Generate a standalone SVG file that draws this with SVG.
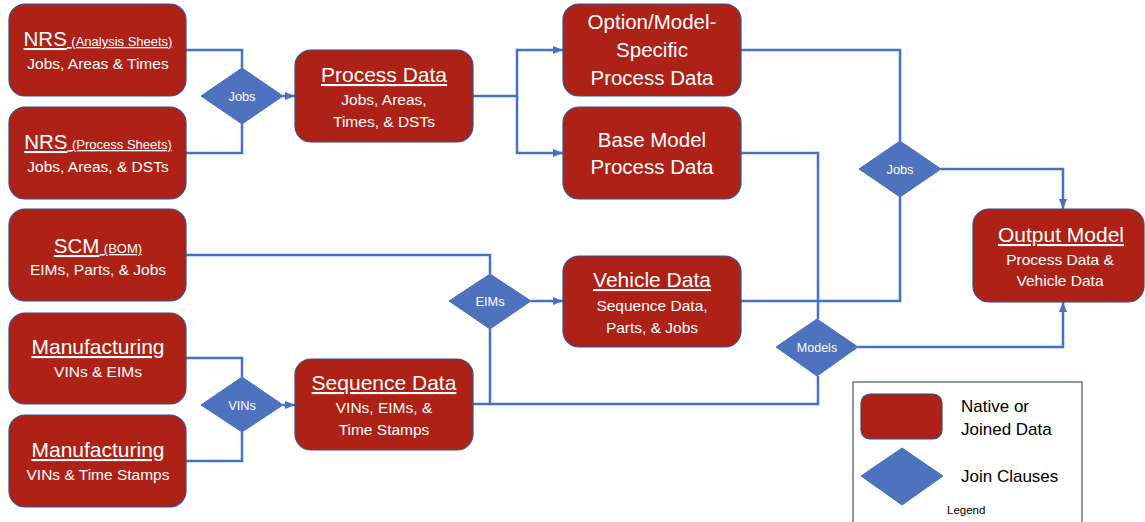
<svg xmlns="http://www.w3.org/2000/svg" width="1145" height="522" viewBox="0 0 1145 522">
<style>
.node{fill:#AE2117;stroke:#2F528F;stroke-width:1.2}
.dia{fill:#4E72BE;stroke:#4472C4;stroke-width:1}
.conn{fill:none;stroke:#4472C4;stroke-width:2.5}
text{font-family:"Liberation Sans",Arial,sans-serif;fill:#fff;text-anchor:middle}
.t{font-size:21px;text-decoration:underline}
.tn{font-size:20.5px}
.s{font-size:15.5px}
.p{font-size:13px}
.d{font-size:12.8px}
.lg{fill:#000;text-anchor:start;font-size:17px}
.lgs{fill:#000;text-anchor:start;font-size:11.5px}
</style>
<defs>
<marker id="ah" markerUnits="userSpaceOnUse" markerWidth="10" markerHeight="10" viewBox="0 0 10 10" refX="10" refY="5" orient="auto">
<path d="M0,1 L10,5 L0,9 Z" fill="#4472C4"/>
</marker>
</defs>
<g id="connectors">
<path class="conn" d="M186,50 H242 V68"/>
<path class="conn" d="M186,153 H242 V124"/>
<path class="conn" d="M283,96 H295" marker-end="url(#ah)"/>
<path class="conn" d="M473,96 H517 V50 H563" marker-end="url(#ah)"/>
<path class="conn" d="M517,96 V153 H563" marker-end="url(#ah)"/>
<path class="conn" d="M186,255 H490 V274"/>
<path class="conn" d="M531,301 H563" marker-end="url(#ah)"/>
<path class="conn" d="M473,404 H490 V329"/>
<path class="conn" d="M490,404 H818 V376"/>
<path class="conn" d="M186,358 H242 V377"/>
<path class="conn" d="M186,461 H242 V432"/>
<path class="conn" d="M283,405 H295" marker-end="url(#ah)"/>
<path class="conn" d="M741,50 H900 V141"/>
<path class="conn" d="M741,153 H818 V319"/>
<path class="conn" d="M741,301 H900 V197"/>
<path class="conn" d="M941,169 H1063 V209" marker-end="url(#ah)"/>
<path class="conn" d="M858,347 H1063 V302" marker-end="url(#ah)"/>
</g>
<g id="nrs-analysis">
<rect class="node" x="9" y="4" width="177" height="92" rx="16"/>
<text x="98" y="46" style="text-decoration:underline"><tspan class="tn">NRS</tspan> <tspan class="p">(Analysis Sheets)</tspan></text>
<text class="s" x="98" y="69">Jobs, Areas &amp; Times</text>
</g>
<g id="nrs-process">
<rect class="node" x="9" y="107" width="177" height="92" rx="16"/>
<text x="98" y="149" style="text-decoration:underline"><tspan class="tn">NRS</tspan> <tspan class="p">(Process Sheets)</tspan></text>
<text class="s" x="98" y="172">Jobs, Areas, &amp; DSTs</text>
</g>
<g id="scm">
<rect class="node" x="9" y="209" width="177" height="92" rx="16"/>
<text x="98" y="253" style="text-decoration:underline"><tspan class="tn">SCM</tspan> <tspan class="p">(BOM)</tspan></text>
<text class="s" x="98" y="275">EIMs, Parts, &amp; Jobs</text>
</g>
<g id="manufacturing-eims">
<rect class="node" x="9" y="313" width="177" height="91" rx="16"/>
<text class="t" x="98" y="354">Manufacturing</text>
<text class="s" x="98" y="377">VINs &amp; EIMs</text>
</g>
<g id="manufacturing-times">
<rect class="node" x="9" y="415" width="177" height="92" rx="16"/>
<text class="t" x="98" y="457">Manufacturing</text>
<text class="s" x="98" y="480">VINs &amp; Time Stamps</text>
</g>
<g id="join-jobs-1">
<polygon class="dia" points="201,96 242,68 283,96 242,124"/>
<text class="d" x="242" y="101">Jobs</text>
</g>
<g id="join-vins">
<polygon class="dia" points="201,405 242,377 283,405 242,432"/>
<text class="d" x="242" y="410">VINs</text>
</g>
<g id="process-data">
<rect class="node" x="295" y="50" width="178" height="92" rx="16"/>
<text class="t" x="384" y="82">Process Data</text>
<text class="s" x="384" y="105">Jobs, Areas,</text>
<text class="s" x="384" y="127">Times, &amp; DSTs</text>
</g>
<g id="sequence-data">
<rect class="node" x="295" y="359" width="178" height="91" rx="16"/>
<text class="t" x="384" y="390">Sequence Data</text>
<text class="s" x="384" y="413">VINs, EIMs, &amp;</text>
<text class="s" x="384" y="435">Time Stamps</text>
</g>
<g id="join-eims">
<polygon class="dia" points="449,301 490,274 531,301 490,329"/>
<text class="d" x="490" y="306">EIMs</text>
</g>
<g id="option-model">
<rect class="node" x="563" y="4" width="178" height="92" rx="16"/>
<text class="tn" x="652" y="29">Option/Model-</text>
<text class="tn" x="652" y="57">Specific</text>
<text class="tn" x="652" y="85">Process Data</text>
</g>
<g id="base-model">
<rect class="node" x="563" y="107" width="178" height="92" rx="16"/>
<text class="tn" x="652" y="147">Base Model</text>
<text class="tn" x="652" y="174">Process Data</text>
</g>
<g id="vehicle-data">
<rect class="node" x="563" y="256" width="178" height="91" rx="16"/>
<text class="t" x="652" y="287">Vehicle Data</text>
<text class="s" x="652" y="311">Sequence Data,</text>
<text class="s" x="652" y="333">Parts, &amp; Jobs</text>
</g>
<g id="join-jobs-2">
<polygon class="dia" points="859,169 900,141 941,169 900,197"/>
<text class="d" x="900" y="174">Jobs</text>
</g>
<g id="join-models">
<polygon class="dia" points="776,347 817,319 858,347 817,376"/>
<text class="d" x="817" y="352" style="font-size:12.5px">Models</text>
</g>
<g id="output-model">
<rect class="node" x="973" y="209" width="171" height="93" rx="16"/>
<text class="t" x="1061" y="242">Output Model</text>
<text class="s" x="1060" y="265">Process Data &amp;</text>
<text class="s" x="1060" y="286">Vehicle Data</text>
</g>
<g id="legend">
<rect x="853" y="382" width="229" height="150" fill="#fff" stroke="#44546A" stroke-width="1.2"/>
<rect class="node" x="861" y="394" width="81" height="45" rx="9"/>
<polygon class="dia" points="861,476 902,448 943,476 902,505"/>
<text class="lg" x="961" y="412">Native or</text>
<text class="lg" x="961" y="435">Joined Data</text>
<text class="lg" x="961" y="482">Join Clauses</text>
<text class="lgs" x="947" y="514">Legend</text>
</g>
</svg>
